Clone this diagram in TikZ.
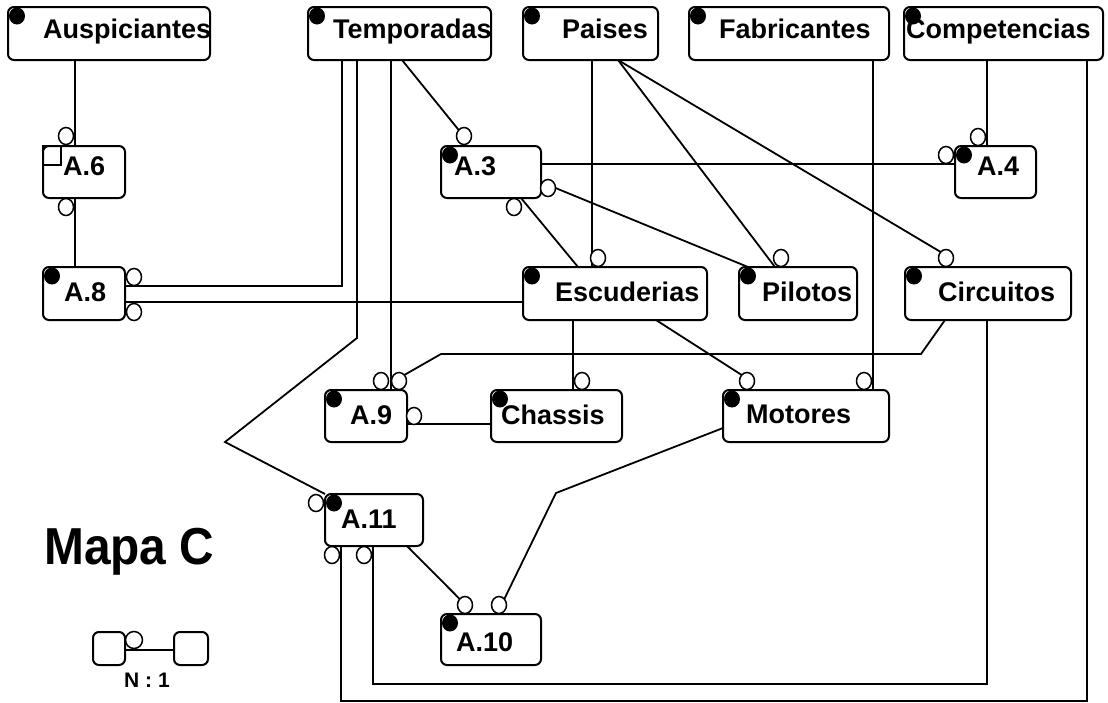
\documentclass[tikz,border=0pt]{standalone}
\usepackage{fontspec}
\setmainfont{Liberation Sans}
\newfontfamily\boxfont{Liberation Sans}
\newfontfamily\titlefont[FakeStretch=0.92]{Liberation Sans}
\usetikzlibrary{shapes.geometric}
\pgfdeclarelayer{background}
\pgfsetlayers{background,main}

\begin{document}
\begin{tikzpicture}[
    x=1pt, y=-1pt,
    entity/.style={
        draw,
        rectangle,
        rounded corners=6pt,
        line width=2pt,
        inner sep=0pt,
        outer sep=0pt,
        anchor=north west
    },
    etext/.style={
        font=\boxfont\bfseries\fontsize{27}{29}\selectfont,
        inner sep=0pt,
        anchor=base west
    },
    own/.style={
        ellipse,
        fill=black,
        minimum width=16pt,
        minimum height=17pt,
        inner sep=0pt
    },
    opt/.style={
        ellipse,
        draw,
        fill=white,
        line width=1.5pt,
        minimum width=15pt,
        minimum height=17pt,
        inner sep=0pt,
        outer sep=0pt
    },
    link/.style={
        draw=black,
        line width=1.8pt,
        line join=miter
    }
]
\useasboundingbox (0,0) rectangle (1108,702);

% entidades y agregaciones
\node[entity, minimum width=202pt, minimum height=53pt] (aus) at (8,7) {};
\node[entity, minimum width=183pt, minimum height=53pt] (tem) at (308,7) {};
\node[entity, minimum width=135pt, minimum height=53pt] (pai) at (523,7) {};
\node[entity, minimum width=200pt, minimum height=53pt] (fab) at (689,7) {};
\node[entity, minimum width=199pt, minimum height=53pt] (com) at (904,7) {};
\node[entity, minimum width=82pt,  minimum height=52pt] (a6)  at (43,146) {};
\node[entity, minimum width=100pt, minimum height=52pt] (a3)  at (441,146) {};
\node[entity, minimum width=81pt,  minimum height=52pt] (a4)  at (955,146) {};
\node[entity, minimum width=82pt,  minimum height=53pt] (a8)  at (43,267) {};
\node[entity, minimum width=184pt, minimum height=53pt] (esc) at (523,267) {};
\node[entity, minimum width=118pt, minimum height=53pt] (pil) at (739,267) {};
\node[entity, minimum width=166pt, minimum height=53pt] (cir) at (905,267) {};
\node[entity, minimum width=82pt,  minimum height=52pt] (a9)  at (325,390) {};
\node[entity, minimum width=131pt, minimum height=52pt] (cha) at (491,390) {};
\node[entity, minimum width=166pt, minimum height=52pt] (mot) at (723,390) {};
\node[entity, minimum width=98pt,  minimum height=52pt] (a11) at (325,494) {};
\node[entity, minimum width=100pt, minimum height=51pt] (a10) at (441,614) {};

\foreach \b in {aus,tem,pai,fab,com,a3,a4,a8,esc,pil,cir,a9,cha,mot,a11,a10}
    \node[own] (\b-d) at ([shift={(9,9)}]\b.north west) {};
\draw[line width=1.5pt] (a6.north west) rectangle ++(18,19);

\node[etext] (aus-t) at (43,38)   {Auspiciantes};
\node[etext] (tem-t) at (333,38)  {Temporadas};
\node[etext] (pai-t) at (562,38)  {Paises};
\node[etext] (fab-t) at (719,38)  {Fabricantes};
\node[etext] (com-t) at (906,38)  {Competencias};
\node[etext] (a6-t)  at (63,175)  {A.6};
\node[etext] (a3-t)  at (454,175) {A.3};
\node[etext] (a4-t)  at (977,175) {A.4};
\node[etext] (a8-t)  at (64,301)  {A.8};
\node[etext] (esc-t) at (555,301) {Escuderias};
\node[etext] (pil-t) at (762,301) {Pilotos};
\node[etext] (cir-t) at (938,301) {Circuitos};
\node[etext] (a9-t)  at (350,424) {A.9};
\node[etext] (cha-t) at (501,424) {Chassis};
\node[etext] (mot-t) at (746,423) {Motores};
\node[etext] (a11-t) at (341,528) {A.11};
\node[etext] (a10-t) at (456,651) {A.10};

% opcionalidad
\node[opt] (a6-n)   at (66,136)  {};
\node[opt] (a6-s)   at (66,207)  {};
\node[opt] (a8-ne)  at (134,277) {};
\node[opt] (a8-se)  at (134,312) {};
\node[opt] (a3-n)   at (464,136) {};
\node[opt] (a3-e)   at (548,188) {};
\node[opt] (a3-s)   at (514,207) {};
\node[opt] (a4-w)   at (946,155) {};
\node[opt] (a4-n)   at (978,137) {};
\node[opt] (esc-n)  at (598,258) {};
\node[opt] (pil-n)  at (781,258) {};
\node[opt] (cir-n)  at (946,258) {};
\node[opt] (a9-nw)  at (381,381) {};
\node[opt] (a9-ne)  at (399,381) {};
\node[opt] (a9-e)   at (414,416) {};
\node[opt] (cha-n)  at (582,381) {};
\node[opt] (mot-nw) at (747,381) {};
\node[opt] (mot-ne) at (864,381) {};
\node[opt] (a11-w)  at (316,503) {};
\node[opt] (a11-sw) at (332,555) {};
\node[opt] (a11-se) at (364,555) {};
\node[opt] (a10-nw) at (465,605) {};
\node[opt] (a10-ne) at (499,605) {};

\begin{pgfonlayer}{background}
\draw[link] ([shift={(67,0)}]aus.south west) -- ([shift={(32,0)}]a6.north west);
\draw[link] ([shift={(32,0)}]a6.south west) -- ([shift={(32,0)}]a8.north west);
\draw[link] ([shift={(34,0)}]tem.south west) |- ([shift={(0,19)}]a8.north east);
\draw[link] ([shift={(0,35)}]a8.north east) -- ([shift={(0,35)}]esc.north west);
\draw[link] ([shift={(49,0)}]tem.south west) -- ++(0,278) -- (225,442) -- (a11.north west);
\draw[link] ([shift={(83,0)}]tem.south west) -- ([shift={(66,0)}]a9.north west);
\draw[link] ([shift={(94,0)}]tem.south west) -- (a3-n.north west);
\draw[link] ([shift={(0,18)}]a3.north east) -- ([shift={(0,18)}]a4.north west);
\draw[link] (a3-e.east) -- ([shift={(9,0)}]pil.north west);
\draw[link] ([shift={(80,0)}]a3.south west) -- ([shift={(55,0)}]esc.north west);
\draw[link] ([shift={(69,0)}]pai.south west) -- ([shift={(69,0)}]esc.north west);
\draw[link] ([shift={(95,0)}]pai.south west) -- ([shift={(36,0)}]pil.north west);
\draw[link] ([shift={(95,0)}]pai.south west) -- (cir-n.north west);
\draw[link] ([shift={(184,0)}]fab.south west) -- ([shift={(150,0)}]mot.north west);
\draw[link] ([shift={(83,0)}]com.south west) -- ([shift={(32,0)}]a4.north west);
\draw[link] ([shift={(183,0)}]com.south west) -- ++(0,641) -| ([shift={(16,0)}]a11.south west);
\draw[link] ([shift={(82,0)}]cir.south west) -- ++(0,364) -| ([shift={(48,0)}]a11.south west);
\draw[link] ([shift={(50,0)}]esc.south west) -- ([shift={(82,0)}]cha.north west);
\draw[link] ([shift={(133,0)}]esc.south west) -- (mot-nw.north west);
\draw[link] ([shift={(40,0)}]cir.south west) -- ++(-24,34) -- (441,354) -- (a9-ne.north east);
\draw[link] ([shift={(0,34)}]a9.north east) -- ([shift={(0,34)}]cha.north west);
\draw[link] ([shift={(0,38)}]mot.north west) -- (556,493) -- (a10-ne.north east);
\draw[link] ([shift={(82,0)}]a11.south west) -- (a10-nw.north west);
\end{pgfonlayer}

% titulo y leyenda
\node[font=\titlefont\bfseries\fontsize{52}{58}\selectfont, anchor=base west, inner sep=0pt]
    (mapa) at (44,564) {Mapa C};
\node[entity, minimum width=32pt, minimum height=33pt] (lga) at (93,632) {};
\node[entity, minimum width=34pt, minimum height=33pt] (lgb) at (174,632) {};
\node[opt, minimum width=17pt] (lg-o) at (134,640) {};
\begin{pgfonlayer}{background}
\draw[link] ([shift={(0,18)}]lga.north east) -- ([shift={(0,18)}]lgb.north west);
\end{pgfonlayer}
\node[font=\boxfont\bfseries\fontsize{21}{24}\selectfont, anchor=base, inner sep=0pt]
    (ratio) at (147,687) {N : 1};

\end{tikzpicture}
\end{document}
